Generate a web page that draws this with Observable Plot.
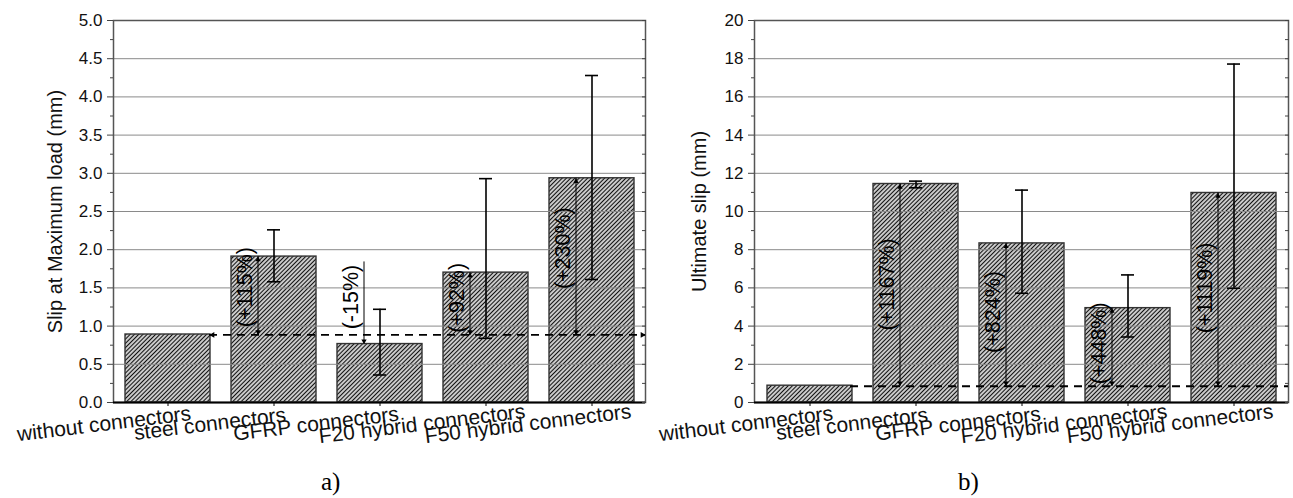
<!DOCTYPE html>
<html><head><meta charset="utf-8">
<script src="https://cdn.jsdelivr.net/npm/d3@7"></script>
<script src="https://cdn.jsdelivr.net/npm/@observablehq/plot@0.6"></script>
<style>
body{margin:0;background:#fff;font-family:"Liberation Sans",Arial,sans-serif;}
#wrap{position:relative;width:1293px;height:498px;overflow:hidden;}
#left{position:absolute;left:0;top:0;}
#right{position:absolute;left:650px;top:0;}
.cap{position:absolute;top:468px;font-family:"Liberation Serif","Times New Roman",serif;font-size:25px;color:#000;}
</style></head><body>
<svg width="0" height="0" style="position:absolute">
  <defs>
    <pattern id="hatch" patternUnits="userSpaceOnUse" width="3" height="3" patternTransform="rotate(45)">
      <rect width="3" height="3" fill="#fff"/>
      <line x1="1.5" y1="0" x2="1.5" y2="3" stroke="#111" stroke-width="1.45"/>
    </pattern>
  </defs>
</svg>
<div id="wrap">
  <div id="left"></div>
  <div id="right"></div>
  <div class="cap" style="left:321px">a)</div>
  <div class="cap" style="left:958px">b)</div>
</div>
<script>
// ---------- data ----------
const categories = ["without connectors", "steel connectors", "GFRP connectors", "F20 hybrid connectors", "F50 hybrid connectors"];

// a) slip at maximum load (mm)
const slipMax = [0.89, 1.91, 0.765, 1.70, 2.935];
const slipMaxLow = [null, 1.58, 0.36, 0.84, 1.61];
const slipMaxHigh = [null, 2.26, 1.22, 2.93, 4.28];
const slipMaxRef = 0.885;
const slipMaxNotes = [null, "(+115%)", "(-15%)", "(+92%)", "(+230%)"];
const slipMaxNoteAt = [null, 1.51, 1.38, 1.37, 2.02];
const slipMaxArrowFrom = [null, 0.885, 1.84, 0.885, 0.885];
const slipMaxArrowTo = [null, 1.91, 0.765, 1.70, 2.935];
const slipMaxArrowBoth = [false, true, false, true, true];
const slipMaxMajor = [0, 0.5, 1, 1.5, 2, 2.5, 3, 3.5, 4, 4.5, 5];
const slipMaxMinor = [0.25, 0.75, 1.25, 1.75, 2.25, 2.75, 3.25, 3.75, 4.25, 4.75];

// b) ultimate slip (mm)
const ultSlip = [0.88, 11.44, 8.33, 4.94, 10.97];
const ultSlipLow = [null, 11.24, 5.72, 3.43, 5.98];
const ultSlipHigh = [null, 11.59, 11.12, 6.68, 17.72];
const ultSlipRef = 0.85;
const ultSlipNotes = [null, "(+1167%)", "(+824%)", "(+448%)", "(+1119%)"];
const ultSlipNoteAt = [null, 6.18, 4.74, 3.1, 6.0];
const ultSlipArrowFrom = [null, 0.85, 0.85, 0.85, 0.85];
const ultSlipArrowTo = [null, 11.44, 8.33, 4.94, 10.97];
const ultSlipArrowBoth = [false, true, true, true, true];
const ultSlipMajor = [0, 2, 4, 6, 8, 10, 12, 14, 16, 18, 20];
const ultSlipMinor = [1, 3, 5, 7, 9, 11, 13, 15, 17, 19];

// ---------- chart builder ----------
function makeChart(cfg) {
  const rows = categories.map((c, i) => ({cat: c, v: cfg.values[i], lo: cfg.low[i], hi: cfg.high[i],
    note: cfg.notes[i], at: cfg.noteAt[i], from: cfg.from[i], to: cfg.to[i], both: cfg.both[i]}));
  const err = rows.filter(d => d.lo != null);
  const ann = rows.filter(d => d.from != null);
  const upHeads = [], downHeads = [];
  for (const d of ann) {
    const up = d.to > d.from;
    (up ? upHeads : downHeads).push({cat: d.cat, y: d.to});
    if (d.both) (up ? downHeads : upHeads).push({cat: d.cat, y: d.from});
  }
  const all = cfg.major.concat(cfg.minor);
  const marks = [
    Plot.barY(rows, {x: "cat", y: "v", fill: "url(#hatch)", stroke: "#333", strokeWidth: 1.4}),
    Plot.gridY(cfg.major, {stroke: "#8a8a8a", strokeOpacity: 1, strokeWidth: 1}),
    Plot.frame({stroke: "#555", strokeWidth: 1.5}),
    Plot.ruleY([0], {stroke: "#000", strokeWidth: 2}),
    Plot.ruleY([cfg.ref], {stroke: "#000", strokeWidth: 1.8, strokeDasharray: "8,6", insetLeft: 96}),
    Plot.ruleX(err, {x: "cat", y1: "lo", y2: "hi", stroke: "#000", strokeWidth: 1.6}),
    Plot.tickY(err, {x: "cat", y: "lo", stroke: "#000", strokeWidth: 1.6, insetLeft: 36, insetRight: 36}),
    Plot.tickY(err, {x: "cat", y: "hi", stroke: "#000", strokeWidth: 1.6, insetLeft: 36, insetRight: 36}),
    Plot.ruleX(ann, {x: "cat", y1: "from", y2: "to", dx: -16, stroke: "#000", strokeWidth: 1}),
    Plot.dot(upHeads, {x: "cat", y: "y", dx: -16, dy: 3.1, symbol: "triangle", r: 2, fill: "#000", stroke: "none"}),
    Plot.dot(downHeads, {x: "cat", y: "y", dx: -16, dy: -3.1, rotate: 180, symbol: "triangle", r: 2, fill: "#000", stroke: "none"}),
    Plot.text(ann, {x: "cat", y: "at", text: "note", rotate: -90, dx: -29, fontSize: 21.5, fill: "#000"}),
    Plot.axisY(cfg.major, {tickSize: 6, tickPadding: 5, tickFormat: cfg.fmt, fontSize: 17, label: null, stroke: "#444", fill: "#111"}),
    Plot.axisY(cfg.minor, {tickSize: 3, tickFormat: () => "", label: null, stroke: "#444"}),
    Plot.axisY(all, {anchor: "right", tickSize: 4, dx: -4, tickFormat: () => "", label: null, stroke: "#444"}),
    Plot.axisX({tickSize: 4, tickFormat: () => "", label: null, stroke: "#000"}),
    Plot.text(categories, {x: d => d, text: d => d, frameAnchor: "bottom", rotate: -7, textAnchor: "middle", lineAnchor: "middle", dx: -64, dy: 21.5, fontSize: 21, fill: "#111"}),
    Plot.text([cfg.yLabel], {text: d => d, frameAnchor: "left", textAnchor: "middle", dx: cfg.titleDx, rotate: -90, fontSize: 20, fill: "#111"})
  ];
  if (cfg.refHeads) {
    marks.push(Plot.dot([cfg.ref], {y: d => d, frameAnchor: "left", dx: 99.1, rotate: -90, symbol: "triangle", r: 2.2, fill: "#000", stroke: "none"}));
    marks.push(Plot.dot([cfg.ref], {y: d => d, frameAnchor: "right", dx: -3.1, rotate: 90, symbol: "triangle", r: 2.2, fill: "#000", stroke: "none"}));
  }
  return Plot.plot({
    width: cfg.width, height: 460,
    marginLeft: cfg.marginLeft, marginRight: 5, marginTop: 20, marginBottom: 58,
    x: {type: "band", domain: categories, paddingInner: 0.2, paddingOuter: 0.1, label: null},
    y: {domain: cfg.domain, label: null},
    style: {fontFamily: "'Liberation Sans', Arial, sans-serif", fontSize: "17px", color: "#222", background: "#fff", overflow: "visible"},
    marks
  });
}

document.getElementById("left").append(makeChart({
  values: slipMax, low: slipMaxLow, high: slipMaxHigh, ref: slipMaxRef,
  notes: slipMaxNotes, noteAt: slipMaxNoteAt, from: slipMaxArrowFrom, to: slipMaxArrowTo, both: slipMaxArrowBoth,
  major: slipMaxMajor, minor: slipMaxMinor, domain: [0, 5], fmt: d3.format(".1f"),
  yLabel: "Slip at Maximum load (mm)", width: 650, marginLeft: 113, titleDx: -58, refHeads: true
}));
document.getElementById("right").append(makeChart({
  values: ultSlip, low: ultSlipLow, high: ultSlipHigh, ref: ultSlipRef,
  notes: ultSlipNotes, noteAt: ultSlipNoteAt, from: ultSlipArrowFrom, to: ultSlipArrowTo, both: ultSlipArrowBoth,
  major: ultSlipMajor, minor: ultSlipMinor, domain: [0, 20], fmt: d3.format("d"),
  yLabel: "Ultimate slip (mm)", width: 643, marginLeft: 104, titleDx: -55, refHeads: false
}));
</script>
</body></html>
